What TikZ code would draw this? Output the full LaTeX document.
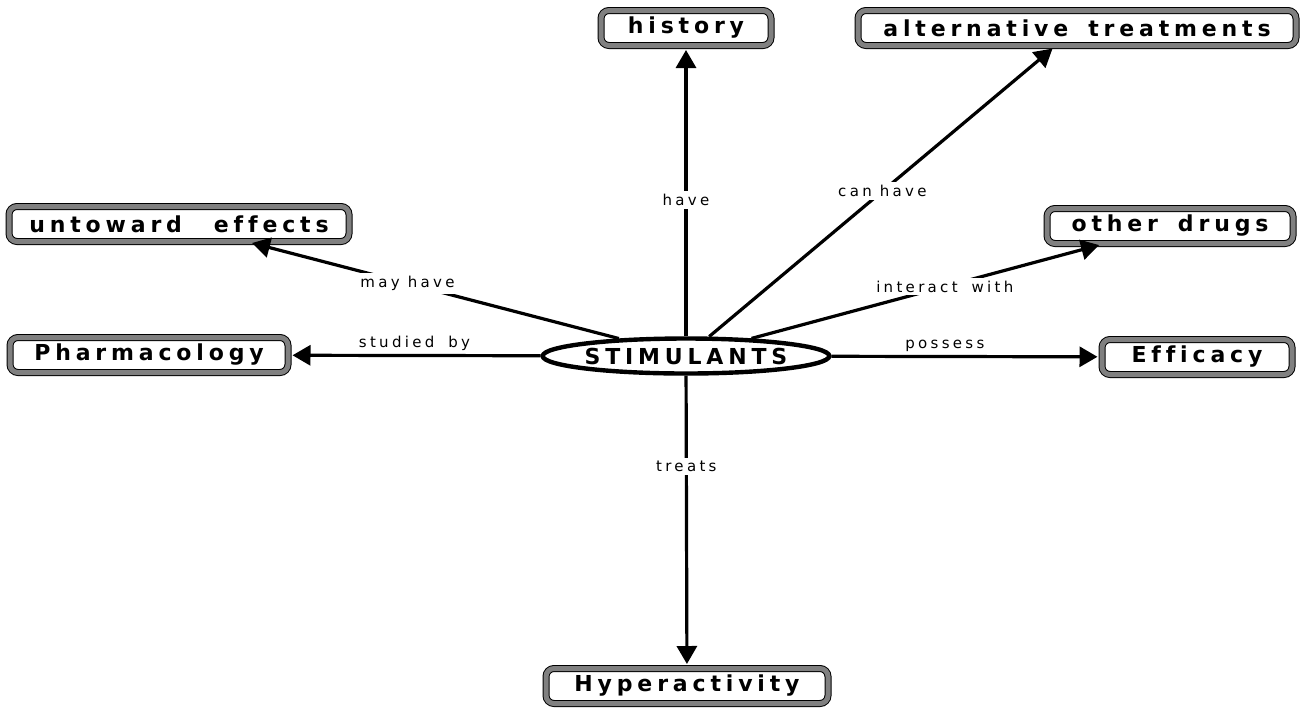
\documentclass[tikz,border=0pt]{standalone}
\usepackage{fontspec}
\newfontfamily\conceptfont[LetterSpace=22,Ligatures=NoCommon]{DejaVu Sans Bold}
\newfontfamily\linkfont[LetterSpace=22,Ligatures=NoCommon]{DejaVu Sans}
\usetikzlibrary{arrows.meta, shapes.geometric}
\newcommand{\wordgap}[1][10pt]{\hspace{#1}}

\begin{document}
\begin{tikzpicture}[x=0.5pt,y=-0.5pt,->,>={Triangle[length=9pt,width=10pt]},shorten >=2pt,
  line width=1.6pt,
  concept/.style={draw=black,line width=0.5pt,double=black!50,double distance=2.5pt,
    rounded corners=4pt,minimum height=17.5pt,inner sep=0pt,
    font=\conceptfont\fontsize{11}{13}\selectfont},
  main node/.style={ellipse,draw,line width=2.2pt,minimum width=133pt,minimum height=17.5pt,
    inner sep=0pt,font=\conceptfont\fontsize{11}{13}\selectfont},
  link/.style={fill=white,inner sep=1.5pt,font=\linkfont\fontsize{7.5}{9}\selectfont}]
  \useasboundingbox (0,0) rectangle (1301,708);
  \node[main node] (stim) at (686,356) {STIMULANTS};
  \node[concept,minimum width=85pt] (history) at (686,28) {history};
  \node[concept,minimum width=219pt] (alt) at (1077,28) {alternative\wordgap treatments};
  \node[concept,minimum width=170pt] (untoward) at (179,224) {untoward\wordgap[16pt]effects};
  \node[concept,minimum width=123pt] (other) at (1170,226) {other\wordgap drugs};
  \node[concept,minimum width=139pt] (pharm) at (149,355) {Pharmacology};
  \node[concept,minimum width=95pt] (eff) at (1197,357) {Efficacy};
  \node[concept,minimum width=141pt] (hyper) at (687,686) {Hyperactivity};
  \path
    (stim) edge node[link,pos=0.47] {have} (history)
           edge node[link] {can have} (alt)
           edge node[link,pos=0.57] {may have} (untoward)
           edge node[link,pos=0.55] {interact\wordgap[7pt]with} (other)
           edge node[link,above,fill=none] {studied\wordgap[7pt]by} (pharm)
           edge node[link,above,fill=none,pos=0.42] {possess} (eff)
           edge node[link,pos=0.31] {treats} (hyper);
\end{tikzpicture}
\end{document}
